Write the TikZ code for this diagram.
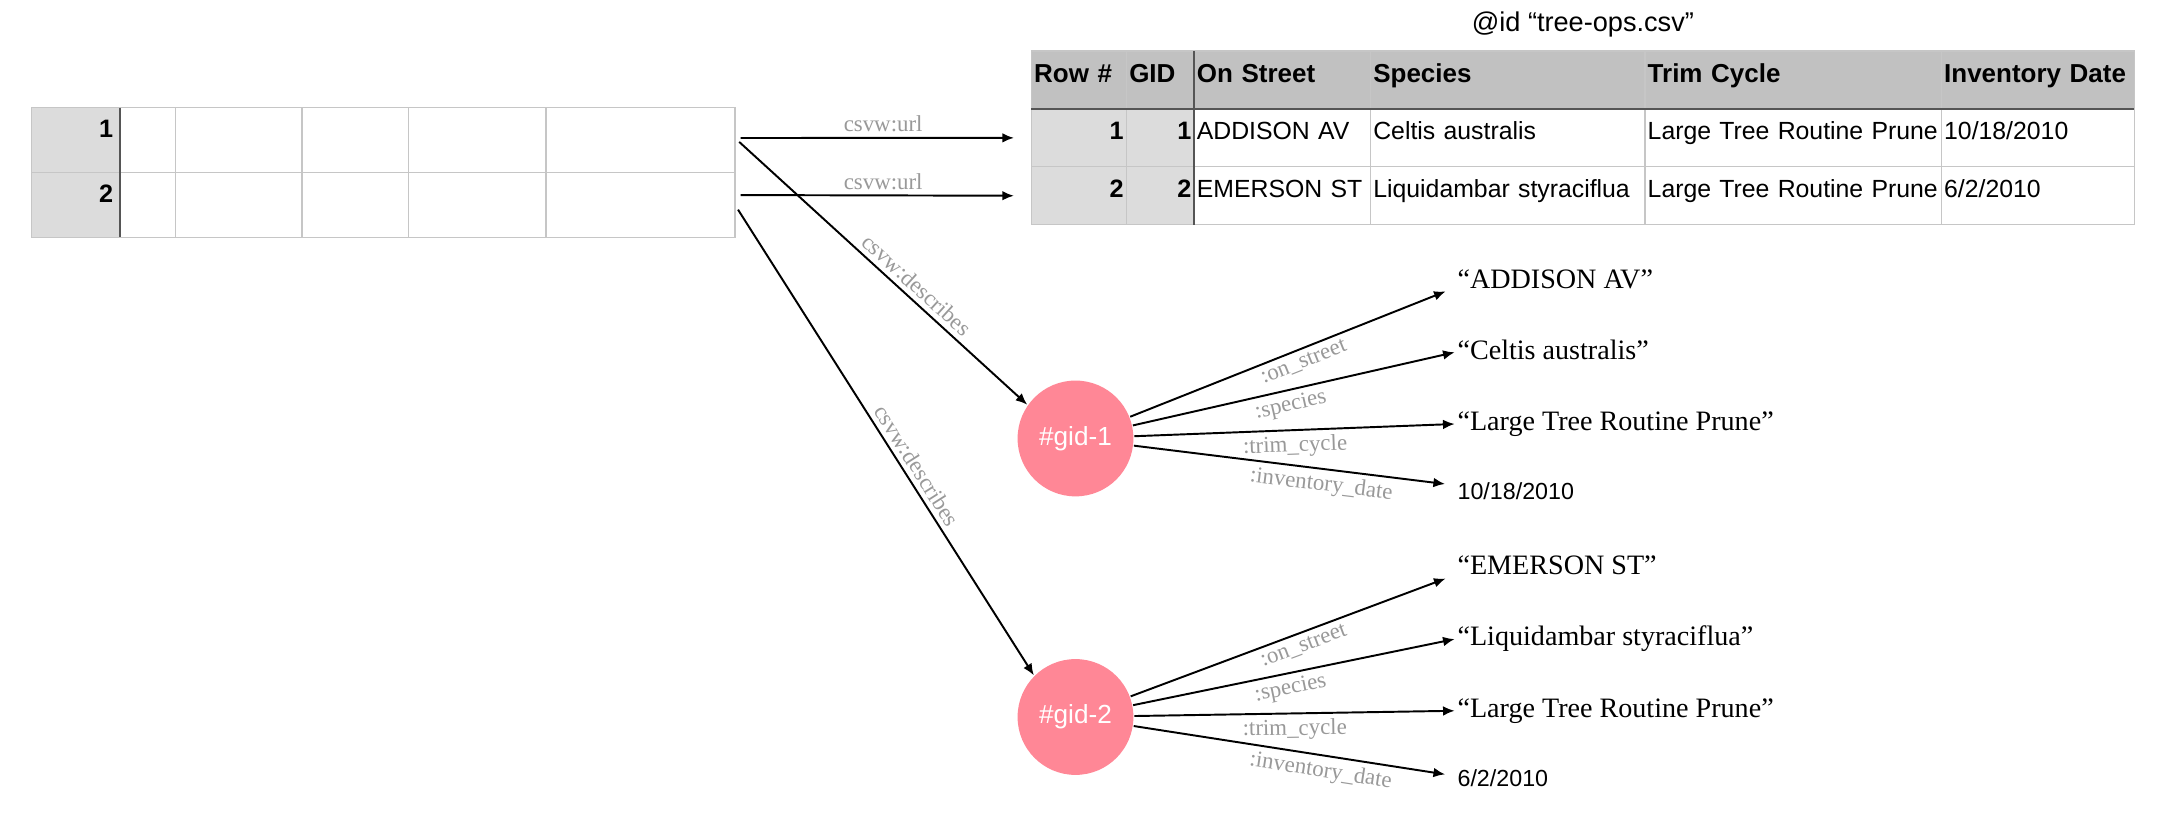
\documentclass[tikz,border=0pt]{standalone}
\usepackage{fontspec}
\setmainfont{Liberation Serif}
\setsansfont{Liberation Sans}
\usetikzlibrary{arrows.meta,positioning}

\newlength\pxu
\setlength\pxu{0.25mm}

\definecolor{gridline}{HTML}{C6C6C6}
\definecolor{frozenline}{HTML}{555555}
\definecolor{headfill}{HTML}{C1C1C1}
\definecolor{keyfill}{HTML}{DCDCDC}
\definecolor{gidpink}{HTML}{FF8796}
\definecolor{labelgray}{HTML}{999999}

\tikzset{
  cell/.style={draw=gridline, line width=0.6pt, anchor=north west, outer sep=0pt,
    inner xsep=2\pxu, inner ysep=0pt, text height=16pt, text depth=13.87pt, align=left,
    font=\sffamily\fontsize{12.8}{15}\selectfont},
  head/.style={cell, fill=headfill, font=\sffamily\bfseries\fontsize{13.4}{15}\selectfont},
  key/.style={cell, fill=keyfill, align=right, font=\sffamily\bfseries\fontsize{13}{15}\selectfont},
  col1/.style={text width=65\pxu},
  col2/.style={text width=45\pxu},
  col3/.style={text width=124\pxu},
  col4/.style={text width=195\pxu},
  col5/.style={text width=211\pxu},
  col6/.style={text width=136\pxu},
  lcell/.style={cell, text height=15.3pt, text depth=18.12pt},
  lkey/.style={lcell, fill=keyfill, align=right, inner xsep=5\pxu, text width=54\pxu,
    font=\sffamily\bfseries\fontsize{13}{15}\selectfont},
  gid/.style={circle, fill=gidpink, text=white, minimum size=84\pxu, inner sep=0pt,
    font=\sffamily\fontsize{13.5}{16}\selectfont},
  literal/.style={anchor=west, inner xsep=1pt, inner ysep=1pt, text height=10pt, text depth=3pt,
    font=\fontsize{14.5}{17}\selectfont},
  datum/.style={literal, font=\sffamily\fontsize{12}{14}\selectfont},
  elabel/.style={sloped, inner sep=2.5pt, text=labelgray, font=\fontsize{11.8}{14}\selectfont}
}

\begin{document}
\begin{tikzpicture}[x=0.25mm, y=-0.25mm, >={Latex[length=6pt,width=5pt]}, line width=1pt]

  \fill[white] (0,0) rectangle (1568,606.3);

  % row table
  \node[lkey] (n1) at (23,78) {1};
  \node[lkey] (n2) at (23,125) {2};
  \foreach \x/\w [count=\c] in {87/40, 127/92, 219/77, 296/100, 396/137}
    \foreach \r/\y in {1/78, 2/125}
      \node[lcell, minimum width=\w\pxu] (l\r\c) at (\x,\y) {};
  \draw[frozenline, line width=0.8pt] (n1.north east) -- (n2.south east);

  % tree-ops.csv
  \node[font=\sffamily\fontsize{14}{16}\selectfont] (title) at (1148,18) {@id “tree-ops.csv”};
  \node[head, col1] (h1) at (748,37) {Row \#};
  \node[head, col2, right=0pt of h1] (h2) {GID};
  \node[head, col3, right=0pt of h2] (h3) {On Street};
  \node[head, col4, right=0pt of h3] (h4) {Species};
  \node[head, col5, right=0pt of h4] (h5) {Trim Cycle};
  \node[head, col6, right=0pt of h5] (h6) {Inventory Date};

  \node[key, col1, below=0pt of h1] (b11) {1};
  \node[key, col2, right=0pt of b11] (b12) {1};
  \node[cell, col3, right=0pt of b12] (b13) {ADDISON AV};
  \node[cell, col4, right=0pt of b13] (b14) {Celtis australis};
  \node[cell, col5, right=0pt of b14] (b15) {Large Tree Routine Prune};
  \node[cell, col6, right=0pt of b15] (b16) {10/18/2010};

  \node[key, col1, below=0pt of b11] (b21) {2};
  \node[key, col2, right=0pt of b21] (b22) {2};
  \node[cell, col3, right=0pt of b22] (b23) {EMERSON ST};
  \node[cell, col4, right=0pt of b23] (b24) {Liquidambar styraciflua};
  \node[cell, col5, right=0pt of b24] (b25) {Large Tree Routine Prune};
  \node[cell, col6, right=0pt of b25] (b26) {6/2/2010};

  \draw[frozenline, line width=0.8pt] (h1.south west) -- (h6.south east);
  \draw[frozenline, line width=0.8pt] (h2.north east) -- (b22.south east);

  % described resources
  \node[gid] (g1) at (780,318) {\#gid-1};
  \node[gid] (g2) at (780,520) {\#gid-2};

  \node[literal] (v11) at (1055,204.5) {“ADDISON AV”};
  \node[literal] (v12) at (1055,255.5) {“Celtis australis”};
  \node[literal] (v13) at (1055,307.5) {“Large Tree Routine Prune”};
  \node[datum]   (v14) at (1055,357.5) {10/18/2010};
  \node[literal] (v21) at (1055,411.5) {“EMERSON ST”};
  \node[literal] (v22) at (1055,463.5) {“Liquidambar styraciflua”};
  \node[literal] (v23) at (1055,515.5) {“Large Tree Routine Prune”};
  \node[datum]   (v24) at (1055,565.5) {6/2/2010};

  \path[->, every node/.style={elabel}]
    ([yshift=1pt]l15.east) edge[shorten <=3pt, shorten >=9pt] node[above] {csvw:url} (b11.west)
                           edge[shorten <=3pt] node[above, pos=0.59] {csvw:describes} (g1.145)
    ([yshift=5pt]l25.east) edge[shorten <=3pt, shorten >=9pt] node[above] {csvw:url} (b21.west)
    (l25.east) edge[shorten <=3pt] node[above, pos=0.57] {csvw:describes} (g2.135);

  \path[->, every node/.style={elabel}]
    (g1) edge[shorten >=5pt] node[below, pos=0.52] {:on\_street} ([yshift=-3pt]v11.west)
         edge node[below, pos=0.48] {:species} (v12.west)
         edge node[below, pos=0.5] {:trim\_cycle} (v13.west)
         edge[shorten >=5pt] node[below, pos=0.59] {:inventory\_date} ([yshift=4pt]v14.west)
    (g2) edge[shorten >=5pt] node[below, pos=0.52] {:on\_street} ([yshift=-4pt]v21.west)
         edge node[below, pos=0.48] {:species} (v22.west)
         edge node[below, pos=0.5] {:trim\_cycle} (v23.west)
         edge[shorten >=5pt] node[below, pos=0.59] {:inventory\_date} ([yshift=2pt]v24.west);
\end{tikzpicture}
\end{document}
